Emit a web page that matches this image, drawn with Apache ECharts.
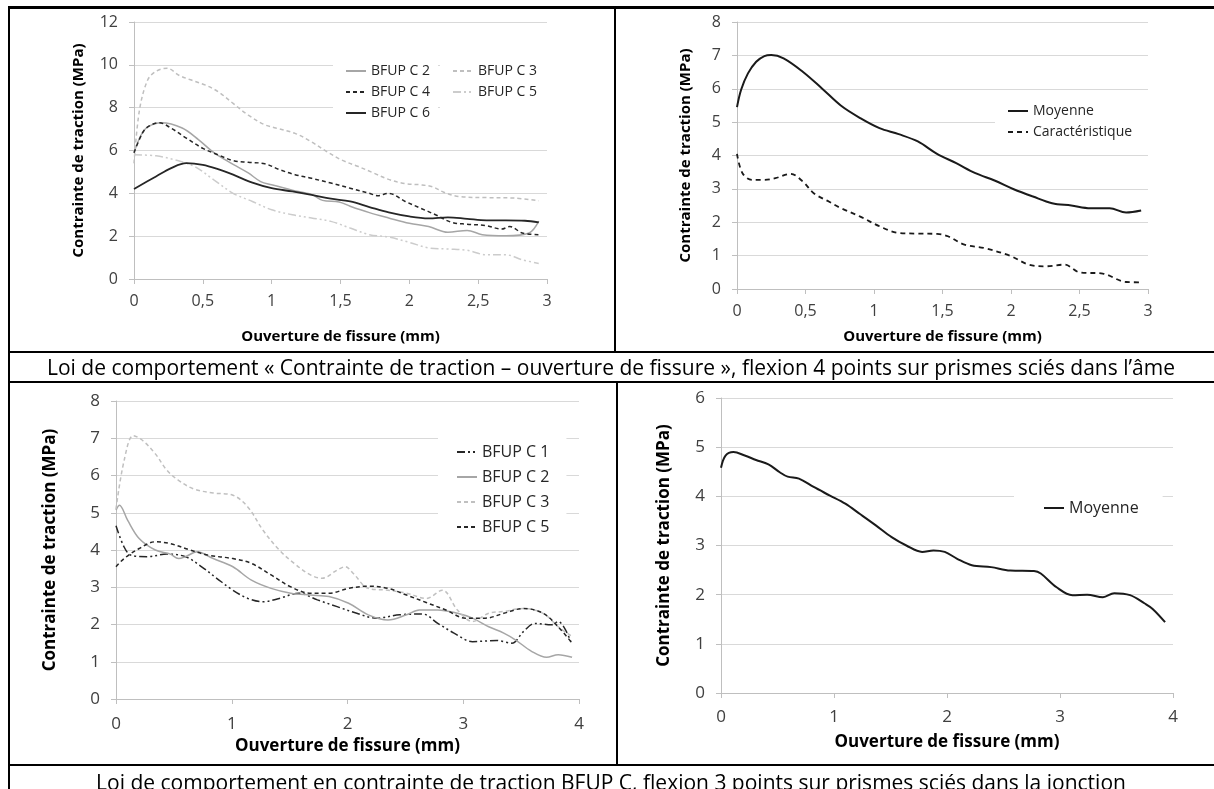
<!DOCTYPE html>
<html>
<head>
<meta charset="utf-8">
<script src="https://cdn.jsdelivr.net/npm/echarts@6/dist/echarts.min.js"></script>
<style>
html,body{margin:0;padding:0;background:#fff;}
#page{position:relative;width:1214px;height:789px;overflow:hidden;font-family:"Open Sans",sans-serif;}
.chart{position:absolute;left:0;top:0;width:1214px;height:789px;}
.hl{position:absolute;background:#000;height:2px;}
.vl{position:absolute;background:#000;width:2px;}
.cap{position:absolute;left:8px;width:1206px;text-align:center;font-size:21px;color:#000;white-space:nowrap;line-height:28px;}
</style>
</head>
<body>
<div id="page">
  <div class="chart" id="tl"></div>
  <div class="chart" id="tr"></div>
  <div class="chart" id="bl"></div>
  <div class="chart" id="br"></div>

  <div class="hl" style="left:8px;top:6px;width:1206px;height:3px"></div>
  <div class="vl" style="left:8px;top:6px;height:783px"></div>
  <div class="vl" style="left:614px;top:6px;height:346px"></div>
  <div class="hl" style="left:8px;top:351px;width:1206px"></div>
  <div class="hl" style="left:8px;top:381px;width:1206px"></div>
  <div class="vl" style="left:616px;top:381px;height:384px"></div>
  <div class="hl" style="left:8px;top:764px;width:1206px"></div>

  <div class="cap" style="top:353px">Loi de comportement « Contrainte de traction – ouverture de fissure », flexion 4 points sur prismes sciés dans l’âme</div>
  <div class="cap" style="top:768px">Loi de comportement en contrainte de traction BFUP C, flexion 3 points sur prismes sciés dans la jonction</div>
</div>

<script>
var FONT = '"Open Sans", sans-serif'
var X_NAME = 'Ouverture de fissure (mm)'
var Y_NAME = 'Contrainte de traction (MPa)'

// ---- flexion 4 points (haut gauche) ----
var tl_c2 = [[0,5.9],[0.05,6.7],[0.1,7.1],[0.2,7.3],[0.35,7.05],[0.47,6.5],[0.58,5.9],[0.72,5.35],[0.83,4.95],[0.92,4.55],[1.0,4.4],[1.15,4.15],[1.29,3.95],[1.37,3.67],[1.49,3.6],[1.57,3.4],[1.71,3.1],[1.85,2.85],[2.0,2.6],[2.14,2.45],[2.28,2.18],[2.42,2.27],[2.53,2.07],[2.7,2.02],[2.87,2.15],[2.94,2.7]]
var tl_c3 = [[0,5.4],[0.04,7.9],[0.1,9.3],[0.16,9.7],[0.24,9.84],[0.33,9.5],[0.41,9.3],[0.52,9.05],[0.61,8.75],[0.72,8.2],[0.83,7.65],[0.95,7.2],[1.03,7.05],[1.17,6.8],[1.29,6.4],[1.4,5.95],[1.51,5.55],[1.63,5.25],[1.74,4.95],[1.85,4.65],[1.97,4.45],[2.08,4.4],[2.17,4.3],[2.25,4.05],[2.36,3.85],[2.56,3.8],[2.76,3.78],[2.94,3.65]]
var tl_c4 = [[0,5.9],[0.06,6.8],[0.1,7.1],[0.18,7.3],[0.27,7.04],[0.38,6.58],[0.5,6.1],[0.61,5.8],[0.72,5.53],[0.83,5.45],[0.95,5.38],[1.06,5.1],[1.17,4.87],[1.29,4.7],[1.43,4.48],[1.57,4.24],[1.71,4.0],[1.77,3.89],[1.85,4.0],[1.97,3.62],[2.08,3.31],[2.19,3.0],[2.31,2.64],[2.42,2.56],[2.56,2.49],[2.67,2.33],[2.73,2.45],[2.82,2.15],[2.94,2.07]]
var tl_c5 = [[0,5.8],[0.16,5.75],[0.3,5.56],[0.44,5.25],[0.58,4.63],[0.72,4.0],[0.86,3.62],[1.0,3.23],[1.15,3.0],[1.29,2.85],[1.43,2.69],[1.57,2.38],[1.71,2.07],[1.85,1.96],[2.0,1.71],[2.14,1.45],[2.28,1.4],[2.42,1.34],[2.56,1.13],[2.7,1.13],[2.82,0.9],[2.94,0.72]]
var tl_c6 = [[0,4.2],[0.16,4.79],[0.27,5.18],[0.38,5.41],[0.5,5.33],[0.61,5.13],[0.72,4.87],[0.86,4.5],[1.0,4.24],[1.15,4.09],[1.29,3.93],[1.43,3.75],[1.57,3.62],[1.71,3.36],[1.85,3.11],[2.0,2.92],[2.14,2.83],[2.28,2.88],[2.42,2.81],[2.56,2.74],[2.7,2.74],[2.84,2.72],[2.94,2.64]]

// ---- flexion 4 points (haut droite) ----
var tr_moy = [[0,5.45],[0.03,5.97],[0.08,6.46],[0.14,6.81],[0.2,6.98],[0.25,7.01],[0.34,6.91],[0.48,6.51],[0.62,6.01],[0.76,5.49],[0.9,5.12],[1.04,4.82],[1.18,4.64],[1.32,4.42],[1.46,4.05],[1.6,3.77],[1.74,3.47],[1.88,3.25],[2.02,2.99],[2.16,2.77],[2.3,2.57],[2.44,2.5],[2.58,2.42],[2.72,2.42],[2.84,2.29],[2.95,2.35]]
var tr_car = [[0,4.05],[0.04,3.47],[0.11,3.27],[0.2,3.27],[0.28,3.32],[0.39,3.45],[0.48,3.22],[0.56,2.87],[0.67,2.62],[0.76,2.42],[0.9,2.17],[1.04,1.88],[1.18,1.68],[1.32,1.66],[1.46,1.65],[1.54,1.58],[1.66,1.33],[1.8,1.23],[1.99,1.0],[2.13,0.73],[2.25,0.68],[2.39,0.73],[2.5,0.5],[2.67,0.46],[2.84,0.21],[2.95,0.2]]

// ---- flexion 3 points (bas gauche) ----
var bl_c1 = [[0,4.65],[0.07,4.08],[0.13,3.86],[0.27,3.82],[0.44,3.89],[0.6,3.82],[0.74,3.55],[0.87,3.24],[1.01,2.92],[1.14,2.7],[1.27,2.61],[1.41,2.7],[1.58,2.84],[1.74,2.66],[1.91,2.48],[2.08,2.3],[2.25,2.17],[2.45,2.26],[2.65,2.28],[2.78,2.03],[2.92,1.77],[3.08,1.54],[3.29,1.57],[3.42,1.5],[3.52,1.81],[3.62,2.03],[3.76,1.99],[3.82,2.08],[3.94,1.45]]
var bl_c2 = [[0,5.07],[0.03,5.2],[0.1,4.8],[0.2,4.31],[0.34,4.0],[0.47,3.89],[0.54,3.77],[0.6,3.82],[0.7,3.95],[0.84,3.77],[1.01,3.55],[1.17,3.19],[1.34,2.97],[1.51,2.84],[1.68,2.79],[1.84,2.75],[2.01,2.57],[2.18,2.26],[2.35,2.12],[2.51,2.26],[2.62,2.39],[2.78,2.39],[2.95,2.3],[3.08,2.17],[3.22,1.94],[3.35,1.77],[3.45,1.59],[3.59,1.28],[3.72,1.12],[3.82,1.19],[3.94,1.12]]
var bl_c3 = [[0,5.1],[0.07,6.4],[0.15,7.07],[0.23,6.94],[0.34,6.58],[0.44,6.14],[0.54,5.87],[0.67,5.64],[0.84,5.53],[1.01,5.47],[1.14,5.15],[1.27,4.53],[1.41,4.0],[1.54,3.64],[1.68,3.33],[1.78,3.24],[1.91,3.46],[1.98,3.55],[2.05,3.37],[2.18,2.97],[2.35,2.92],[2.51,2.84],[2.68,2.7],[2.82,2.92],[2.95,2.39],[3.08,2.08],[3.22,2.3],[3.35,2.35],[3.52,2.43],[3.69,2.3],[3.82,1.94],[3.94,1.68]]
var bl_c5 = [[0,3.55],[0.07,3.77],[0.2,4.04],[0.34,4.22],[0.47,4.17],[0.64,4.0],[0.8,3.86],[1.01,3.77],[1.17,3.64],[1.34,3.33],[1.51,3.01],[1.68,2.84],[1.84,2.84],[2.01,2.97],[2.18,3.03],[2.35,2.97],[2.51,2.79],[2.68,2.59],[2.85,2.39],[3.02,2.17],[3.19,2.17],[3.35,2.3],[3.52,2.43],[3.69,2.3],[3.82,1.94],[3.94,1.5]]

// ---- flexion 3 points (bas droite) ----
var br_moy = [[0,4.58],[0.04,4.83],[0.11,4.9],[0.21,4.83],[0.31,4.74],[0.42,4.65],[0.52,4.49],[0.59,4.4],[0.69,4.36],[0.82,4.19],[0.96,4.02],[1.1,3.85],[1.23,3.64],[1.37,3.41],[1.51,3.17],[1.64,3.0],[1.78,2.87],[1.88,2.9],[1.98,2.87],[2.09,2.73],[2.22,2.6],[2.39,2.56],[2.56,2.49],[2.77,2.48],[2.83,2.43],[2.97,2.15],[3.11,1.99],[3.24,2.0],[3.38,1.95],[3.48,2.03],[3.62,1.99],[3.75,1.82],[3.82,1.71],[3.93,1.44]]

function comma(v){ return String(v).replace('.', ',') }

function line(name, data, color, type, w){
    return {name:name, type:'line', data:data, smooth:0.35, symbol:'none',
            lineStyle:{color:color, type:type, width:w || 1.5}, itemStyle:{color:color}}
}

// legend : trait seul, pas de symbole
function legend(names, left, top, pad, fs, gap){
    return {orient:'vertical', left:left, top:top, data:names, padding:pad,
            backgroundColor:'#fff', itemWidth:20, itemHeight:2, itemGap:gap,
            itemStyle:{opacity:0},
            textStyle:{fontSize:fs, color:'#262626', fontFamily:FONT}}
}

function panel(id, g, series, legends){
    var c = echarts.init(document.getElementById(id))
    c.setOption({
        animation:false,
        textStyle:{fontFamily:FONT},
        grid:{left:g.left, top:g.top, width:g.width, height:g.height},
        xAxis:{type:'value', min:0, max:g.xmax, interval:g.xint,
               name:X_NAME, nameLocation:'middle', nameGap:g.xgap,
               nameTextStyle:{fontWeight:'bold', fontSize:g.tfs, color:'#000'},
               axisLine:{lineStyle:{color:'#bfbfbf'}},
               axisTick:{length:5, lineStyle:{color:'#bfbfbf'}},
               axisLabel:{margin:g.xm, fontSize:g.lfs, color:'#404040', formatter:comma},
               splitLine:{show:false}},
        yAxis:{type:'value', min:0, max:g.ymax, interval:g.yint,
               name:Y_NAME, nameLocation:'middle', nameGap:g.ygap, nameRotate:90,
               nameTextStyle:{fontWeight:'bold', fontSize:g.tfs, color:'#000'},
               axisLine:{show:true, lineStyle:{color:'#bfbfbf'}},
               axisTick:{show:true, length:5, lineStyle:{color:'#bfbfbf'}},
               axisLabel:{margin:16, fontSize:g.lfs, color:'#404040'},
               splitLine:{lineStyle:{color:'#d9d9d9'}}},
        legend:legends,
        series:series
    })
}

panel('tl', {left:134, top:22, width:413, height:257, xmax:3, xint:0.5, ymax:12, yint:2,
             xgap:50, ygap:48, xm:14, tfs:15, lfs:16},
    [line('BFUP C 2', tl_c2, '#a6a6a6', 'solid'),
     line('BFUP C 3', tl_c3, '#bfbfbf', [4,3]),
     line('BFUP C 4', tl_c4, '#262626', [4,3]),
     line('BFUP C 5', tl_c5, '#cccccc', [8,3,2,3,2,3]),
     line('BFUP C 6', tl_c6, '#262626', 'solid', 1.8)],
    [legend(['BFUP C 2','BFUP C 4','BFUP C 6'], 333, 56, [8,8,16,12], 14, 7),
     legend(['BFUP C 3','BFUP C 5'], 440, 56, [8,14,37,12], 14, 7)])

panel('tr', {left:737, top:22, width:411, height:267, xmax:3, xint:0.5, ymax:8, yint:1,
             xgap:40, ygap:44, xm:14, tfs:15, lfs:16},
    [line('Moyenne', tr_moy, '#1a1a1a', 'solid', 2),
     line('Caractéristique', tr_car, '#1a1a1a', [5,4], 1.8)],
    [legend(['Moyenne','Caractéristique'], 995, 96, [8,20,8,12], 14, 7)])

panel('bl', {left:116, top:401, width:463, height:298, xmax:4, xint:1, ymax:8, yint:1,
             xgap:39, ygap:57, xm:17, tfs:17, lfs:17},
    [line('BFUP C 1', bl_c1, '#262626', [8,3,2,3,2,3]),
     line('BFUP C 2', bl_c2, '#a6a6a6', 'solid'),
     line('BFUP C 3', bl_c3, '#c0c0c0', [4,3]),
     line('BFUP C 5', bl_c5, '#262626', [4,3])],
    [legend(['BFUP C 1','BFUP C 2','BFUP C 3','BFUP C 5'], 438, 434, [10,17,8,18], 16, 9)])

panel('br', {left:721, top:398, width:452, height:295, xmax:4, xint:1, ymax:6, yint:1,
             xgap:41, ygap:48, xm:16, tfs:17, lfs:17},
    [line('Moyenne', br_moy, '#1a1a1a', 'solid', 2)],
    [legend(['Moyenne'], 1014, 488, [12,24,12,29], 16, 8)])
</script>
</body>
</html>
